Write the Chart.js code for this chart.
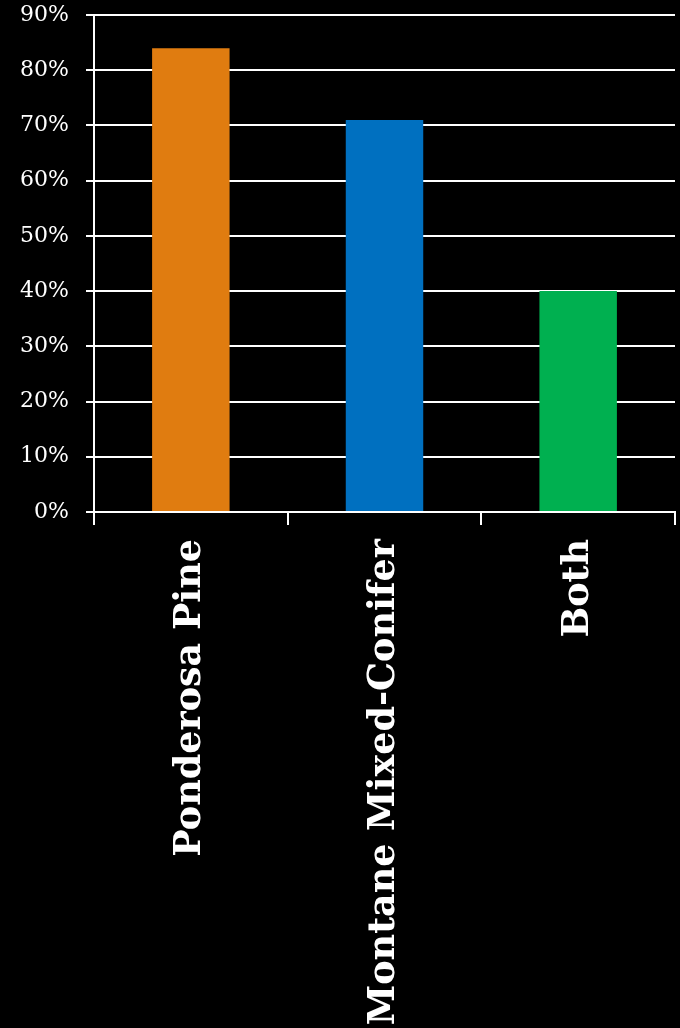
<!DOCTYPE html>
<html>
<head>
<meta charset="utf-8">
<script src="https://cdn.jsdelivr.net/npm/chart.js@4.4.0/dist/chart.umd.min.js"></script>
<style>
  html, body { margin: 0; padding: 0; background: #000; }
  #wrap { width: 680px; height: 1028px; position: relative; }
</style>
</head>
<body>
<div id="wrap"><canvas id="c"></canvas></div>
<script>
const categories = ["Ponderosa Pine", "Montane Mixed-Conifer", "Both"];
const values = [84, 71, 40];
const barColors = ["#E07C10", "#0070C0", "#00B050"];
const yTicks = [0, 10, 20, 30, 40, 50, 60, 70, 80, 90];

new Chart(document.getElementById('c'), {
  type: 'bar',
  data: {
    labels: categories,
    datasets: [{
      data: values,
      backgroundColor: barColors,
      borderWidth: 0,
      barPercentage: 0.8,
      categoryPercentage: 0.5
    }]
  },
  options: {
    responsive: true,
    maintainAspectRatio: false,
    animation: false,
    layout: { padding: { top: 15, right: 5, left: 0, bottom: 0 } },
    plugins: { legend: { display: false }, tooltip: { enabled: false } },
    scales: {
      x: {
        grid: {
          display: true,
          drawOnChartArea: false,
          drawTicks: true,
          tickLength: 13,
          color: '#ffffff',
          lineWidth: 2,
          offset: true
        },
        border: { display: true, color: '#ffffff', width: 2 },
        ticks: {
          color: '#ffffff',
          maxRotation: 90,
          minRotation: 90,
          padding: 14,
          autoSkip: false,
          font: { family: 'DejaVu Serif', size: 36.5, weight: 'bold' }
        },
        afterFit: s => { s.height = 516; s.paddingLeft = 0; s.paddingRight = 0; }
      },
      y: {
        min: 0,
        max: 90,
        afterBuildTicks: s => { s.ticks = yTicks.map(v => ({ value: v })); },
        grid: {
          color: '#ffffff',
          lineWidth: 2,
          drawTicks: true,
          tickLength: 8
        },
        border: { display: true, color: '#ffffff', width: 2 },
        ticks: {
          color: '#ffffff',
          padding: 17,
          font: { family: 'DejaVu Serif', size: 22 },
          callback: v => v + '%'
        },
        afterFit: s => { s.width = 94; s.paddingTop = 0; s.paddingBottom = 0; }
      }
    }
  },
  plugins: [{
    id: 'bg',
    beforeDraw: c => {
      const ctx = c.ctx;
      ctx.save();
      ctx.fillStyle = '#000';
      ctx.fillRect(0, 0, c.width, c.height);
      ctx.restore();
    }
  }]
});
</script>
</body>
</html>
